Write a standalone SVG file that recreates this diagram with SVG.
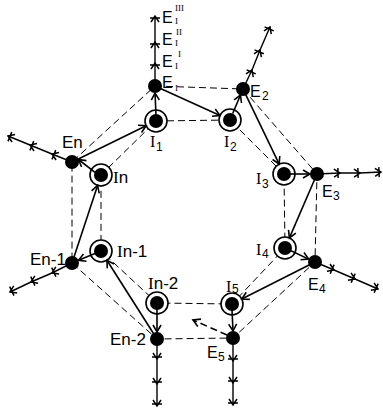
<svg xmlns="http://www.w3.org/2000/svg" width="383" height="413" viewBox="0 0 383 413">
<style>
.dash{fill:none;stroke:#000;stroke-width:1;stroke-dasharray:7,4}
.arr{fill:none;stroke:#000;stroke-width:1.6;marker-end:url(#ah)}
.darr{fill:none;stroke:#000;stroke-width:1.6;stroke-dasharray:7,4;marker-end:url(#ah)}
.out{fill:none;stroke:#000;stroke-width:1.4;marker-mid:url(#tk);marker-end:url(#tk)}
.ring{fill:#fff;stroke:#000;stroke-width:1.6}
.dot{fill:#000}
text{font-family:"Liberation Sans",Arial,sans-serif;fill:#000}
.lb{font-size:16px}
.big{font-size:17px}
.sb{font-size:12px}
.ss{font-size:9px}
.sf{font-family:"Liberation Serif","Times New Roman",serif}
</style>
<defs>
<marker id="ah" viewBox="-8 -5 10 10" markerWidth="10" markerHeight="10" refX="0" refY="0" orient="auto" markerUnits="userSpaceOnUse">
<path d="M-7,-4 L0,0 L-7,4" fill="none" stroke="#000" stroke-width="1.6"/>
</marker>
<marker id="tk" viewBox="-8 -6 10 12" markerWidth="10" markerHeight="12" refX="0" refY="0" orient="auto" markerUnits="userSpaceOnUse">
<path d="M-6,-4 L0,0 L-6,4 M-2,-5 L-2,5" fill="none" stroke="#000" stroke-width="1.5"/>
</marker>
</defs>
<g id="guides">
<polygon class="dash" points="155,86 243,89 317,174 315,262 233,338 157,339 72,263 72,162"/>
<polygon class="dash" points="156,121 230,120 284,174 285,248 232,304 157,303 101,251 101,175"/>
</g>
<g id="outlets">
<polyline class="out" points="155,80 155,63 155,42 155,16"/>
<polyline class="out" points="243,89 252,70 260,50 270,27"/>
<polyline class="out" points="317,174 340,173 360,173 381,172"/>
<polyline class="out" points="315,262 334,270 355,279 378,289"/>
<polyline class="out" points="233,338 233,361 233,383 233,405"/>
<polyline class="out" points="157,339 157,359 157,384 157,406"/>
<polyline class="out" points="72,263 52,273 31,282 10,292"/>
<polyline class="out" points="72,162 52,154 30,145 8,136"/>
</g>
<g id="I1"><circle class="ring" cx="156" cy="121" r="11"/><circle class="dot" cx="156" cy="121" r="7"/></g>
<g id="I2"><circle class="ring" cx="230" cy="120" r="11"/><circle class="dot" cx="230" cy="120" r="7"/></g>
<g id="I3"><circle class="ring" cx="284" cy="174" r="11"/><circle class="dot" cx="284" cy="174" r="7"/></g>
<g id="I4"><circle class="ring" cx="285" cy="248" r="11"/><circle class="dot" cx="285" cy="248" r="7"/></g>
<g id="I5"><circle class="ring" cx="232" cy="304" r="11"/><circle class="dot" cx="232" cy="304" r="7"/></g>
<g id="In-2"><circle class="ring" cx="157" cy="303" r="11"/><circle class="dot" cx="157" cy="303" r="7"/></g>
<g id="In-1"><circle class="ring" cx="101" cy="251" r="11"/><circle class="dot" cx="101" cy="251" r="7"/></g>
<g id="In"><circle class="ring" cx="101" cy="175" r="11"/><circle class="dot" cx="101" cy="175" r="7"/></g>
<g id="E1"><circle class="dot" cx="155" cy="86" r="7"/></g>
<g id="E2"><circle class="dot" cx="243" cy="89" r="7"/></g>
<g id="E3"><circle class="dot" cx="317" cy="174" r="7"/></g>
<g id="E4"><circle class="dot" cx="315" cy="262" r="7"/></g>
<g id="E5"><circle class="dot" cx="233" cy="338" r="7"/></g>
<g id="En-2"><circle class="dot" cx="157" cy="339" r="7"/></g>
<g id="En-1"><circle class="dot" cx="72" cy="263" r="7"/></g>
<g id="En"><circle class="dot" cx="72" cy="162" r="7"/></g>
<g id="connectors">
<line class="arr" x1="156" y1="115" x2="155" y2="93"/>
<line class="arr" x1="160.5" y1="88.5" x2="220" y2="115.5"/>
<line class="arr" x1="232.7" y1="113.5" x2="240.5" y2="95"/>
<line class="arr" x1="245.6" y1="94.4" x2="279.2" y2="164.1"/>
<line class="arr" x1="290" y1="174" x2="310" y2="174"/>
<line class="arr" x1="314.4" y1="180" x2="289.4" y2="237.9"/>
<line class="arr" x1="291" y1="250.8" x2="308.6" y2="259.1"/>
<line class="arr" x1="309.6" y1="264.7" x2="241.8" y2="299"/>
<line class="arr" x1="232" y1="310" x2="233" y2="331"/>
<line class="darr" x1="227" y1="335" x2="193" y2="320"/>
<line class="arr" x1="157" y1="309" x2="157" y2="332"/>
<line class="arr" x1="153.5" y1="333.5" x2="106.9" y2="260.3"/>
<line class="arr" x1="95" y1="253.5" x2="78.5" y2="260.3"/>
<line class="arr" x1="74" y1="257" x2="97.6" y2="185.4"/>
<line class="arr" x1="95" y1="172.3" x2="78.5" y2="159.5"/>
<line class="arr" x1="77.8" y1="159.2" x2="146.1" y2="125.8"/>
</g>
<g id="labels">
<text class="lb" x="162" y="23">E</text><text class="ss sf" x="175" y="24">I</text><text class="ss sf" x="175" y="11">III</text>
<text class="lb" x="162" y="45">E</text><text class="ss sf" x="175" y="46">I</text><text class="ss sf" x="176" y="35">II</text>
<text class="lb" x="162" y="67">E</text><text class="ss sf" x="175" y="69">I</text><text class="ss sf" x="178" y="57">I</text>
<text class="lb" x="162" y="88">E</text><text class="ss sf" x="175" y="91">I</text>
<text class="lb" x="250" y="97">E</text><text class="sb" x="262" y="100">2</text>
<text class="lb sf" x="150" y="147">I</text><text class="sb" x="156" y="151">1</text>
<text class="lb sf" x="224" y="147">I</text><text class="sb" x="230" y="151">2</text>
<text class="lb sf" x="256" y="184">I</text><text class="sb" x="262" y="188">3</text>
<text class="lb" x="322" y="197">E</text><text class="sb" x="333" y="200">3</text>
<text class="lb sf" x="256" y="255">I</text><text class="sb" x="262" y="258">4</text>
<text class="lb" x="308" y="290">E</text><text class="sb" x="319" y="293">4</text>
<text class="lb sf" x="226" y="292">I</text><text class="sb" x="232" y="293" font-size="13">5</text>
<text class="lb" x="207" y="358">E</text><text class="sb" x="218" y="361">5</text>
<text class="big" x="148" y="289"><tspan class="sf">I</tspan>n-2</text>
<text class="big" x="110" y="345">En-2</text>
<text class="big" x="117" y="257"><tspan class="sf">I</tspan>n-1</text>
<text class="big" x="30" y="265">En-1</text>
<text class="big" x="113" y="183"><tspan class="sf">I</tspan>n</text>
<text class="big" x="62" y="148">En</text>
</g>
</svg>
